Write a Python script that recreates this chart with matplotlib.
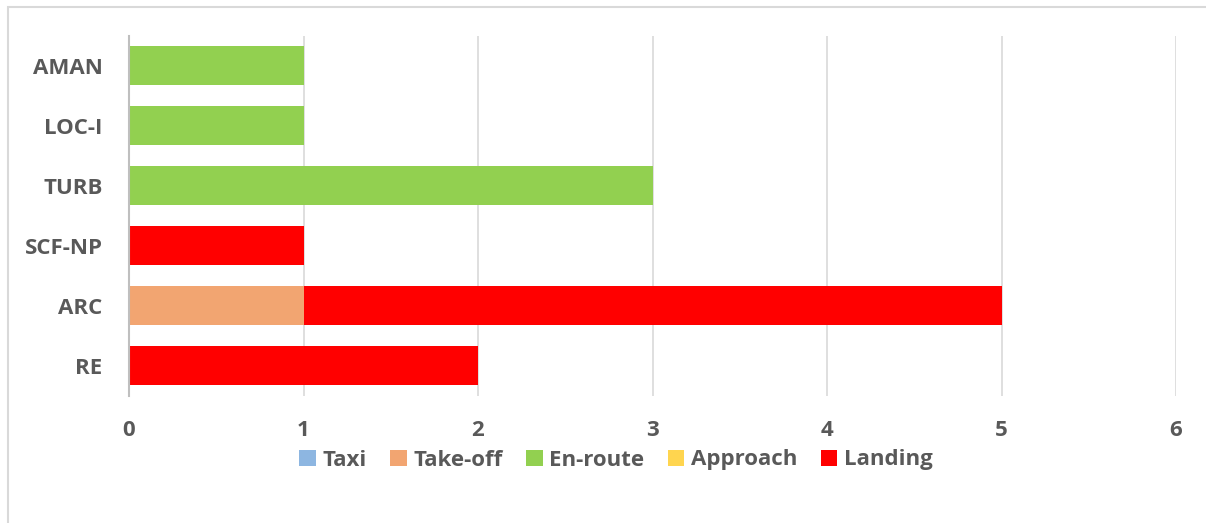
import matplotlib.pyplot as plt
from matplotlib.patches import Rectangle
import numpy as np

categories = ['RE', 'ARC', 'SCF-NP', 'TURB', 'LOC-I', 'AMAN']
phases = ['Taxi', 'Take-off', 'En-route', 'Approach', 'Landing']
taxi = [0, 0, 0, 0, 0, 0]
take_off = [0, 1, 0, 0, 0, 0]
en_route = [0, 0, 0, 3, 1, 1]
approach = [0, 0, 0, 0, 0, 0]
landing = [2, 4, 1, 0, 0, 0]
colors = ['#8DB6E1', '#F2A571', '#92D050', '#FFD54F', '#FF0000']

plt.rcParams['font.family'] = ['Open Sans', 'DejaVu Sans']
text_color = '#595959'

fig = plt.figure(figsize=(12.06, 5.23), dpi=100)
W, H = 1206, 523
ax = fig.add_axes([129 / W, 1 - 395.5 / H, (1176 - 129) / W, 360 / H])

# chart frame
fig.patches.append(Rectangle((8 / W, -0.01), 1.05, 1 - 7 / H + 0.01,
                             transform=fig.transFigure, fill=False,
                             edgecolor='#D9D9D9', linewidth=1.5))

y = np.arange(len(categories))
left = np.zeros(len(categories))
for name, vals, c in zip(phases, [taxi, take_off, en_route, approach, landing], colors):
    ax.barh(y, vals, left=left, height=0.65, color=c, label=name, zorder=3)
    left += np.array(vals)

ax.set_xlim(0, 6)
ax.set_ylim(-0.5, 5.5)
ax.set_xticks(range(7))
ax.set_yticks(y)
ax.set_yticklabels(categories)
ax.grid(axis='x', color='#D9D9D9', linewidth=1.2, zorder=0)
for s in ['top', 'right', 'bottom']:
    ax.spines[s].set_visible(False)
ax.spines['left'].set_color('#BFBFBF')
ax.spines['left'].set_linewidth(1.5)
ax.spines['left'].set_zorder(4)
ax.tick_params(length=0, labelsize=16, labelcolor=text_color)
ax.tick_params(axis='y', pad=19)
ax.tick_params(axis='x', pad=18)
for lbl in ax.get_xticklabels() + ax.get_yticklabels():
    lbl.set_fontweight('bold')

leg = fig.legend(loc='center', bbox_to_anchor=(616 / W, 1 - 460 / H), ncol=5,
                 frameon=False, handlelength=0.75, handleheight=0.75,
                 handletextpad=0.3, columnspacing=1.05,
                 prop={'size': 16, 'weight': 'bold'})
for t in leg.get_texts():
    t.set_color(text_color)

fig.savefig('out.png', dpi=100)
